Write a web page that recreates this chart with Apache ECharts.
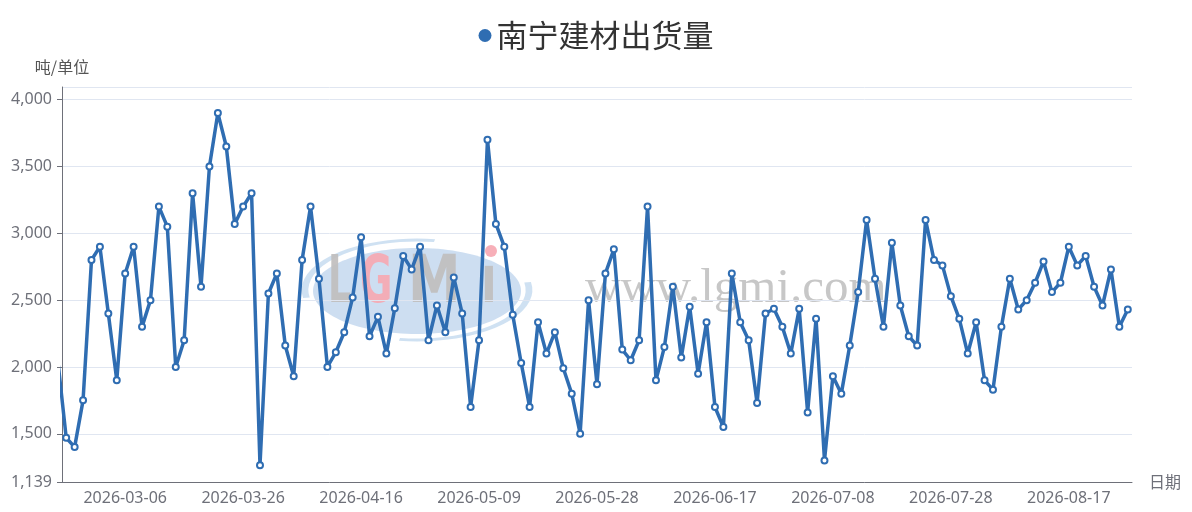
<!DOCTYPE html>
<html>
<head>
<meta charset="utf-8">
<script src="https://cdn.jsdelivr.net/npm/echarts@6/dist/echarts.min.js"></script>
<style>
html,body{margin:0;padding:0;background:#fff;}
#c{width:1192px;height:512px;}
</style>
</head>
<body>
<div id="c"></div>
<script>
const seriesName = '南宁建材出货量';
const yAxisName = '吨/单位';
const xAxisName = '日期';

const dates = [
  '2026-02-24',
  '2026-02-25','2026-02-26','2026-02-27','2026-03-02','2026-03-03','2026-03-04','2026-03-05','2026-03-06','2026-03-09','2026-03-10',
  '2026-03-11','2026-03-12','2026-03-13','2026-03-16','2026-03-17','2026-03-18','2026-03-19','2026-03-20',
  '2026-03-23','2026-03-24','2026-03-25','2026-03-26','2026-03-27','2026-03-30','2026-03-31','2026-04-01','2026-04-02','2026-04-03',
  '2026-04-07','2026-04-08','2026-04-09','2026-04-10','2026-04-13','2026-04-14','2026-04-15','2026-04-16',
  '2026-04-17','2026-04-20','2026-04-21','2026-04-22','2026-04-23','2026-04-24','2026-04-27','2026-04-28','2026-04-29','2026-04-30',
  '2026-05-06','2026-05-07','2026-05-08','2026-05-09','2026-05-11','2026-05-12','2026-05-13','2026-05-14',
  '2026-05-15','2026-05-18','2026-05-19','2026-05-20','2026-05-21','2026-05-22','2026-05-25','2026-05-26','2026-05-27','2026-05-28',
  '2026-05-29','2026-06-01','2026-06-02','2026-06-03','2026-06-04','2026-06-05','2026-06-08','2026-06-09',
  '2026-06-10','2026-06-11','2026-06-12','2026-06-15','2026-06-16','2026-06-17','2026-06-18','2026-06-22','2026-06-23','2026-06-24',
  '2026-06-25','2026-06-26','2026-06-29','2026-06-30','2026-07-01','2026-07-02','2026-07-03','2026-07-06',
  '2026-07-07','2026-07-08','2026-07-09','2026-07-10','2026-07-13','2026-07-14','2026-07-15','2026-07-16','2026-07-17','2026-07-20',
  '2026-07-21','2026-07-22','2026-07-23','2026-07-24','2026-07-27','2026-07-28','2026-07-29','2026-07-30',
  '2026-07-31','2026-08-03','2026-08-04','2026-08-05','2026-08-06','2026-08-07','2026-08-10','2026-08-11','2026-08-12','2026-08-13',
  '2026-08-14','2026-08-17','2026-08-18','2026-08-19','2026-08-20','2026-08-21','2026-08-24','2026-08-25','2026-08-26'
];

const values = [
  2050,
  1470,1400,1750,2800,2900,2400,1900,2700,2900,2300,2500,3200,3050,2000,2200,3300,2600,3500,
  3900,3650,3070,3200,3300,1265,2550,2700,2160,1930,2800,3200,2660,2000,2110,2260,2520,2970,
  2230,2375,2100,2440,2830,2730,2900,2200,2460,2260,2670,2400,1700,2200,3700,3070,2900,2390,
  2030,1700,2335,2100,2260,1990,1800,1500,2500,1870,2700,2880,2130,2050,2200,3200,1900,2150,
  2600,2070,2450,1950,2335,1700,1550,2700,2335,2200,1730,2400,2435,2300,2100,2435,1660,2360,
  1300,1930,1800,2160,2560,3100,2660,2300,2930,2460,2230,2160,3100,2800,2760,2530,2360,2100,
  2335,1900,1830,2300,2660,2430,2500,2630,2790,2560,2630,2900,2760,2830,2600,2460,2730,2300,2430
];

const xLabelDates = ['2026-03-06','2026-03-26','2026-04-16','2026-05-09','2026-05-28','2026-06-17','2026-07-08','2026-07-28','2026-08-17'];
const firstVisibleIndex = 1;
const yMin = 1139;
const yMax = 4095;

const lineColor = '#2f6db2';
const labelColor = '#6E7079';
const showDate = function (idx, val) { return xLabelDates.indexOf(val) >= 0; };

const wmGray = 'rgba(192,190,190,0.92)';
const wmPink = 'rgba(246,168,178,0.92)';

const chart = echarts.init(document.getElementById('c'), null, {renderer: 'canvas'});
chart.setOption({
  animation: false,
  backgroundColor: '#fff',
  textStyle: { fontFamily: '"Noto Sans", "Noto Sans CJK SC", sans-serif' },
  legend: {
    top: 15,
    left: 'center',
    icon: 'circle',
    itemWidth: 13,
    itemHeight: 13,
    textStyle: { fontSize: 31, color: '#333', fontFamily: '"Noto Sans CJK SC", sans-serif' },
    data: [seriesName]
  },
  grid: { left: 62, right: 60, top: 87, bottom: 30, containLabel: false },
  graphic: [
    { type: 'arc', z: 0, silent: true, shape: { cx: 417, cy: 290, r: 1, startAngle: Math.PI * 0.95, endAngle: Math.PI * 1.55 },
      scaleX: 112, scaleY: 50, originX: 417, originY: 290,
      style: { fill: 'none', stroke: 'rgba(160,195,230,0.5)', lineWidth: 0.06 } },
    { type: 'arc', z: 0, silent: true, shape: { cx: 417, cy: 290, r: 1, startAngle: -Math.PI * 0.05, endAngle: Math.PI * 0.55 },
      scaleX: 112, scaleY: 50, originX: 417, originY: 290,
      style: { fill: 'none', stroke: 'rgba(160,195,230,0.5)', lineWidth: 0.06 } },
    { type: 'ellipse', z: 0, silent: true, shape: { cx: 417, cy: 291, rx: 104, ry: 43 },
      style: { fill: 'rgba(178,205,233,0.65)' } },
    { type: 'text', z: 0, silent: true, x: 328, y: 252, scaleX: 0.55,
      style: { text: 'L', font: 'bold 66px "DejaVu Sans"', fill: wmGray } },
    { type: 'text', z: 0, silent: true, x: 360, y: 252, scaleX: 0.6,
      style: { text: 'G', font: 'bold 66px "DejaVu Sans"', fill: wmPink } },
    { type: 'text', z: 0, silent: true, x: 408, y: 252, scaleX: 0.8,
      style: { text: 'M', font: 'bold 66px "DejaVu Sans"', fill: wmGray } },
    { type: 'text', z: 0, silent: true, x: 481, y: 252, scaleX: 0.7,
      style: { text: 'ı', font: 'bold 66px "DejaVu Sans"', fill: wmGray } },
    { type: 'circle', z: 0, silent: true, shape: { cx: 491, cy: 251, r: 6 },
      style: { fill: wmPink } },
    { type: 'text', z: 0, silent: true, x: 585, y: 265,
      style: { text: 'www.lgmi.com', font: '49px "Liberation Serif"', fill: 'rgba(185,185,185,0.8)' } }
  ],
  xAxis: {
    type: 'category',
    data: dates,
    min: firstVisibleIndex,
    boundaryGap: true,
    name: xAxisName,
    nameGap: 17,
    nameTextStyle: { fontSize: 16, color: labelColor, fontFamily: '"Noto Sans CJK SC", sans-serif' },
    axisLine: { lineStyle: { color: labelColor } },
    axisTick: { interval: showDate, length: 5 },
    axisLabel: { interval: showDate, fontSize: 16, color: labelColor, margin: 8 },
    splitLine: { show: false }
  },
  yAxis: {
    type: 'value',
    min: yMin,
    max: yMax,
    name: yAxisName,
    nameGap: 12,
    nameTextStyle: { fontSize: 16, color: '#555', fontFamily: '"Noto Sans CJK SC", sans-serif' },
    axisLine: { show: true, lineStyle: { color: labelColor } },
    axisTick: { show: true, length: 5 },
    axisLabel: { fontSize: 16, color: labelColor, margin: 10, showMaxLabel: false },
    splitLine: { lineStyle: { color: '#E0E6F1' } }
  },
  series: [{
    name: seriesName,
    type: 'line',
    data: values,
    z: 3,
    symbol: 'emptyCircle',
    symbolSize: 6,
    showAllSymbol: true,
    clip: true,
    lineStyle: { width: 3.5, color: lineColor },
    itemStyle: { color: lineColor, borderWidth: 2 }
  }]
});
</script>
</body>
</html>
